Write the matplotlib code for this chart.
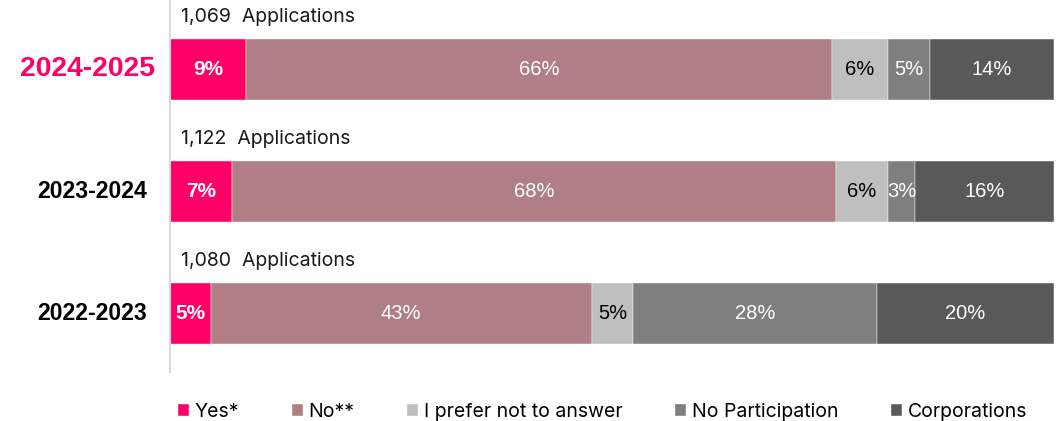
import numpy as np
import matplotlib.pyplot as plt
from matplotlib import transforms

years = ["2022-2023", "2023-2024", "2024-2025"]
applications = [1080, 1122, 1069]
categories = ["Yes*", "No**", "I prefer not to answer", "No Participation", "Corporations"]

# shares in percent, per year (same order as years)
yes = [4.6, 7.0, 8.6]
no = [43.1, 68.3, 66.3]
prefer_not = [4.7, 5.9, 6.3]
no_participation = [27.6, 3.1, 4.8]
corporations = [20.0, 15.7, 14.0]

series = [yes, no, prefer_not, no_participation, corporations]
colors = ["#FF0066", "#B07F86", "#BFBFBF", "#7F7F7F", "#595959"]
label_colors = ["white", "white", "black", "white", "white"]
label_weights = ["bold", "normal", "normal", "normal", "normal"]
label_sizes = [15, 14.5, 14.5, 14.5, 14.5]

W, H = 1058, 421
fig = plt.figure(figsize=(W / 100, H / 100), dpi=100)
ax = fig.add_axes([170 / W, 1 - 372 / H, (1054 - 170) / W, 372 / H])

y = np.arange(len(years))
left = np.zeros(len(years))
bars = []
for vals, col, name in zip(series, colors, categories):
    b = ax.barh(y, vals, left=left, height=0.5, color=col, label=name,
                edgecolor="white", linewidth=0.3)
    bars.append(b)
    left += np.array(vals)

# percentage labels inside segments
for b, vals, tc, tw, ts in zip(bars, series, label_colors, label_weights, label_sizes):
    for rect, v in zip(b, vals):
        cx = rect.get_x() + rect.get_width() / 2
        ax.text(cx, rect.get_y() + rect.get_height() / 2, f"{round(v)}%",
                ha="center", va="center", color=tc, fontsize=ts,
                fontweight=tw, family="Liberation Sans")

ax.set_xlim(0, left.max())
ax.set_ylim(-0.48, 2.566)

# application counts above bars
for i, n in enumerate(applications):
    ax.text(11 / (1054 - 170), i + 0.25 + 22 / 122, f"{n:,}  Applications",
            transform=transforms.blended_transform_factory(ax.transAxes, ax.transData),
            ha="left", va="center", fontsize=14, family="Inter", color="#1a1a1a")

# year labels on the left
trans = transforms.blended_transform_factory(fig.transFigure, ax.transData)
for i, yr in enumerate(years):
    if i == len(years) - 1:
        ax.text(155 / W, i, yr, transform=trans, ha="right", va="center",
                fontsize=20.3, fontweight="bold", color="#FF0066", family="Liberation Sans")
    else:
        ax.text(147 / W, i, yr, transform=trans, ha="right", va="center",
                fontsize=16.6, fontweight="bold", color="black", family="Liberation Sans")

ax.set_xticks([])
ax.set_yticks([])
for s in ["top", "right", "bottom"]:
    ax.spines[s].set_visible(False)
ax.spines["left"].set_color("#D9D9D9")
ax.spines["left"].set_linewidth(1.5)

fig.legend(loc="center left", bbox_to_anchor=(178 / W, 1 - 412 / H), ncol=5,
           frameon=False, prop={"family": "Inter", "size": 14},
           handlelength=0.55, handleheight=0.55, handletextpad=0.3,
           columnspacing=2.72, borderaxespad=0, borderpad=0)

fig.savefig("out.png", dpi=100)
